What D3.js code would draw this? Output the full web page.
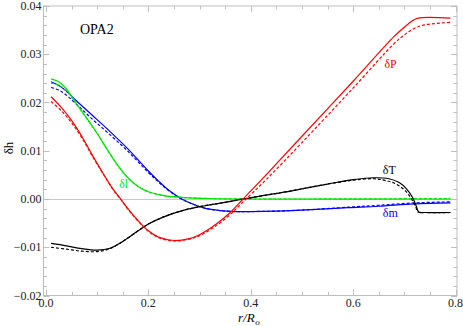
<!DOCTYPE html>
<html><head><meta charset="utf-8">
<script src="https://cdn.jsdelivr.net/npm/d3@7"></script>
<style>body{margin:0;background:#fff}svg{display:block}svg text{font-family:"Liberation Serif","DejaVu Serif",serif !important}</style>
</head><body>
<script>
// r/R values and series (solid = one model, dashed = other)
const pSolid = [[0.01,0.0212],[0.03,0.0190],[0.05,0.0163],[0.07,0.0130],[0.09,0.0092],[0.11,0.0056],[0.13,0.0022],[0.146,0.0],[0.16,-0.0020],[0.18,-0.0045],[0.20,-0.0066],[0.22,-0.0079],[0.25,-0.0086],[0.28,-0.0082],[0.30,-0.0074],[0.33,-0.0054],[0.36,-0.0028],[0.385,0.0],[0.43,0.0050],[0.50,0.0130],[0.60,0.0244],[0.68,0.0337],[0.70,0.0356],[0.715,0.0369],[0.727,0.0375],[0.79,0.0375]];
const pDashed = [[0.01,0.0202],[0.03,0.0183],[0.05,0.0158],[0.07,0.0127],[0.09,0.0090],[0.11,0.0055],[0.13,0.0021],[0.146,-0.0001],[0.16,-0.0021],[0.18,-0.0046],[0.20,-0.0067],[0.22,-0.0080],[0.25,-0.0087],[0.28,-0.0083],[0.30,-0.0076],[0.33,-0.0057],[0.36,-0.0032],[0.385,-0.0006],[0.43,0.0040],[0.50,0.0117],[0.60,0.0230],[0.68,0.0322],[0.70,0.0340],[0.72,0.0354],[0.74,0.0361],[0.79,0.0366]];
const lSolid = [[0.01,0.0249],[0.025,0.0243],[0.04,0.0228],[0.06,0.0197],[0.08,0.0167],[0.10,0.0136],[0.12,0.0102],[0.14,0.0070],[0.16,0.0044],[0.18,0.0026],[0.20,0.0015],[0.23,0.0007],[0.27,0.0003],[0.32,0.0001],[0.40,0.0],[0.79,0.0]];
const lDashed = [[0.01,0.0240],[0.025,0.0236],[0.04,0.0224],[0.06,0.0196],[0.08,0.0166],[0.10,0.0136],[0.12,0.0102],[0.14,0.0070],[0.16,0.0044],[0.18,0.0026],[0.20,0.0015],[0.23,0.0007],[0.27,0.0003],[0.32,0.0001],[0.40,0.0],[0.79,0.0001]];
const mSolid = [[0.01,0.0243],[0.03,0.0232],[0.06,0.0203],[0.09,0.0174],[0.12,0.0145],[0.16,0.0104],[0.20,0.0058],[0.22,0.0037],[0.24,0.0018],[0.265,0.0],[0.29,-0.0012],[0.31,-0.0019],[0.34,-0.0024],[0.37,-0.0026],[0.40,-0.0026],[0.45,-0.0025],[0.50,-0.0023],[0.59,-0.0018],[0.65,-0.0015],[0.72,-0.0010],[0.79,-0.0008]];
const mDashed = [[0.01,0.0231],[0.03,0.0223],[0.06,0.0196],[0.09,0.0166],[0.12,0.0138],[0.16,0.0099],[0.20,0.0055],[0.22,0.0035],[0.24,0.0017],[0.265,0.0],[0.29,-0.0012],[0.31,-0.0019],[0.34,-0.0024],[0.37,-0.0026],[0.40,-0.0026],[0.45,-0.0025],[0.50,-0.0023],[0.59,-0.0017],[0.65,-0.0013],[0.72,-0.0008],[0.79,-0.0006]];
const tSolid = [[0.01,-0.0092],[0.04,-0.0097],[0.07,-0.0103],[0.10,-0.0106],[0.125,-0.0102],[0.15,-0.0088],[0.18,-0.0066],[0.20,-0.0052],[0.23,-0.0037],[0.27,-0.0023],[0.31,-0.0014],[0.35,-0.0007],[0.385,0.0],[0.43,0.0008],[0.48,0.0017],[0.55,0.0031],[0.60,0.0040],[0.64,0.0044],[0.67,0.0042],[0.69,0.0034],[0.705,0.0020],[0.716,0.0003],[0.723,-0.0014],[0.728,-0.0027],[0.74,-0.0028],[0.79,-0.0028]];
const tDashed = [[0.01,-0.0100],[0.04,-0.0104],[0.07,-0.0108],[0.10,-0.0109],[0.125,-0.0103],[0.15,-0.0088],[0.18,-0.0066],[0.20,-0.0052],[0.23,-0.0037],[0.27,-0.0023],[0.31,-0.0014],[0.35,-0.0007],[0.385,0.0],[0.43,0.0008],[0.48,0.0017],[0.55,0.0031],[0.60,0.0039],[0.64,0.0042],[0.66,0.0039],[0.68,0.0033],[0.70,0.0019],[0.712,0.0003],[0.721,-0.0013],[0.727,-0.0027],[0.74,-0.0028],[0.79,-0.0028]];
const xTicks = [0.0,0.2,0.4,0.6,0.8];
const yTicks = [-0.02,-0.01,0.0,0.01,0.02,0.03,0.04];
const series = [
  {data:mSolid,color:"#0000ff",dash:null},{data:mDashed,color:"#0000ff",dash:"3,2"},
  {data:lSolid,color:"#00e600",dash:null},{data:lDashed,color:"#00e600",dash:"3,2"},
  {data:tSolid,color:"#000000",dash:null},{data:tDashed,color:"#000000",dash:"3,2"},
  {data:pSolid,color:"#ff0000",dash:null},{data:pDashed,color:"#ff0000",dash:"3,2"}
];
const labels = [
  {t:"δP",r:0.661,v:0.0272,c:"#ff0000"},
  {t:"δl",r:0.143,v:0.0023,c:"#00e600"},
  {t:"δT",r:0.658,v:0.0052,c:"#000000"},
  {t:"δm",r:0.658,v:-0.0037,c:"#0000ff"}
];

const W=463,H=326;
const L=43.5,R=457,T=6,B=295.5;
const x=d3.scaleLinear().domain([-0.0048,0.8028]).range([L,R]);
const y=d3.scaleLinear().domain([-0.02,0.04]).range([B,T]);
const svg=d3.select("body").append("svg").attr("width",W).attr("height",H);
const frame="#bdbdbd";

// zero axis
svg.append("line").attr("x1",L).attr("x2",R).attr("y1",Math.round(y(0))+0.5).attr("y2",Math.round(y(0))+0.5).attr("stroke","#c8c8c8").attr("stroke-width",1);

// frame
svg.append("rect").attr("x",L).attr("y",T).attr("width",R-L).attr("height",B-T).attr("fill","none").attr("stroke",frame).attr("stroke-width",1);

// ticks
const xMinor=d3.range(0,0.801,0.05);
const yMinor=d3.range(-0.02,0.0401,0.002);
const g=svg.append("g").attr("stroke",frame).attr("stroke-width",1);
xMinor.forEach(v=>{
  const major=xTicks.some(t=>Math.abs(t-v)<1e-6);
  const len=major?6:3.5, px=Math.round(x(v))+0.5;
  g.append("line").attr("x1",px).attr("x2",px).attr("y1",B).attr("y2",B-len);
  g.append("line").attr("x1",px).attr("x2",px).attr("y1",T).attr("y2",T+len);
});
yMinor.forEach(v=>{
  const major=yTicks.some(t=>Math.abs(t-v)<1e-6);
  const len=major?6:3.5, py=Math.round(y(v))+0.5;
  g.append("line").attr("x1",L).attr("x2",L+len).attr("y1",py).attr("y2",py);
  g.append("line").attr("x1",R).attr("x2",R-len).attr("y1",py).attr("y2",py);
});

// tick labels
svg.append("g").selectAll("text").data(xTicks).join("text")
  .attr("x",d=>x(d)).attr("y",B+11.5).attr("text-anchor","middle").attr("font-size",12).attr("fill","#222")
  .text(d=>d.toFixed(1));
svg.append("g").selectAll("text").data(yTicks).join("text")
  .attr("x",L-2).attr("y",d=>y(d)+4).attr("text-anchor","end").attr("font-size",12).attr("fill","#222")
  .text(d=>(d<0?"\u2212":"")+Math.abs(d).toFixed(2));

// lines
const line=d3.line().x(d=>x(d[0])).y(d=>y(d[1])).curve(d3.curveCatmullRom.alpha(0.5));
series.forEach(s=>{
  svg.append("path").attr("d",line(s.data)).attr("fill","none").attr("stroke",s.color)
    .attr("stroke-width",1.2).attr("stroke-dasharray",s.dash);
});

// curve labels
labels.forEach(l=>{
  svg.append("text").attr("x",x(l.r)).attr("y",y(l.v)).attr("font-size",12).attr("fill",l.c).text(l.t);
});

svg.append("text").attr("x",80).attr("y",34).attr("font-size",14).attr("fill","#000").text("OPA2");

// axis titles
svg.append("text").attr("transform","translate(13,148) rotate(-90)").attr("text-anchor","middle").attr("font-size",13).text("δh");
// x title: main part and subscript as separate texts placed side by side
const xMain=svg.append("text").attr("x",238).attr("y",322).attr("font-size",13).attr("font-style","italic").text("r/R");
const wMain=xMain.node().getComputedTextLength();
svg.append("text").attr("x",238+wMain+0.5).attr("y",324.5).attr("font-size",9).attr("font-style","italic").text("o");
</script>
</body></html>
